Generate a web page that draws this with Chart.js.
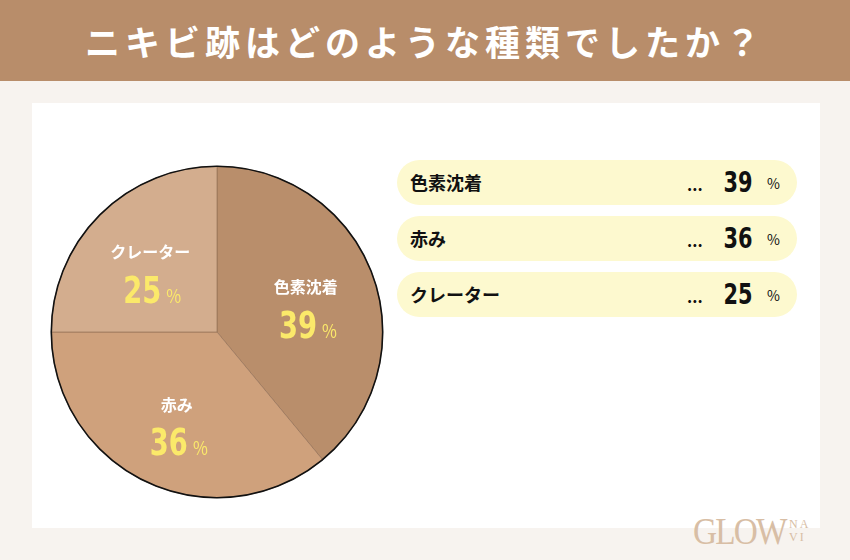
<!DOCTYPE html>
<html lang="ja">
<head>
<meta charset="utf-8">
<script src="https://cdn.jsdelivr.net/npm/chart.js@4.4.1/dist/chart.umd.min.js"></script>
<style>
  html, body { margin: 0; padding: 0; }
  body {
    width: 850px; height: 560px; position: relative; overflow: hidden;
    background: #f7f3ef;
    font-family: "Noto Sans CJK JP", "Noto Sans", sans-serif;
  }
  .title {
    position: absolute; left: 0; top: 0; width: 850px; height: 81px;
    background: #b88d6a; color: #fff;
    font-size: 35px; font-weight: 700; letter-spacing: 5px;
    text-align: center; line-height: 81px;
  }
  .card {
    position: absolute; left: 32px; top: 103px; width: 788px; height: 425px;
    background: #fff;
  }
  .chart-box { position: absolute; left: 37px; top: 152px; width: 360px; height: 360px; }
  .legend { position: absolute; left: 397px; top: 160px; width: 400px; }
  .pill {
    position: relative; height: 45px; border-radius: 23px; background: #fdf9cf;
    margin-bottom: 11px;
  }
  .pill .lab { position: absolute; left: 13px; top: 0; line-height: 45px; font-size: 18px; font-weight: 700; color: #111; }
  .pill .dots { position: absolute; left: 290px; top: 2px; line-height: 45px; font-size: 16px; font-weight: 700; color: #111; }
  .pill .num {
    position: absolute; left: 316px; width: 50px; text-align: center; top: 0; line-height: 45px;
    font-family: "DejaVu Sans", sans-serif; font-size: 29px; font-weight: 700; color: #111;
    transform: scaleX(0.72); transform-origin: center;
  }
  .pill .pct { position: absolute; left: 370px; top: 1px; line-height: 45px; font-size: 14px; color: #111; }
  .logo {
    position: absolute; left: 693px; top: 512px; color: #d8bea5; display: flex; align-items: flex-start;
    font-family: "Liberation Serif", "DejaVu Serif", serif;
  }
  .logo .glow { font-size: 37px; line-height: 40px; letter-spacing: -2px; transform: scaleX(0.9); transform-origin: left; width: 96px; }
  .logo .navi { font-size: 12px; line-height: 13px; letter-spacing: 2px; margin-top: 6px; }
</style>
</head>
<body>
<div class="title">ニキビ跡はどのような種類でしたか？</div>
<div class="card"></div>
<div class="chart-box"><canvas id="pie"></canvas></div>
<div class="legend" id="legend"></div>
<div class="logo"><span class="glow">GLOW</span><span class="navi">NA<br>VI</span></div>

<script>
// Chart data
var labels = ['色素沈着', '赤み', 'クレーター'];
var values = [39, 36, 25];
var sliceColors = ['#b98e6b', '#cfa17c', '#d3ad8e'];

// Legend pills built from the same arrays
var legendEl = document.getElementById('legend');
labels.forEach(function (lab, i) {
  var pill = document.createElement('div');
  pill.className = 'pill';
  pill.innerHTML = '<span class="lab">' + lab + '</span><span class="dots">...</span>' +
    '<span class="num">' + values[i] + '</span><span class="pct">%</span>';
  legendEl.appendChild(pill);
});

// Labels inside slices + black outer ring
var sliceLabels = {
  id: 'sliceLabels',
  afterDatasetsDraw: function (chart) {
    var ctx = chart.ctx;
    var meta = chart.getDatasetMeta(0);
    var first = meta.data[0];
    ctx.save();
    ctx.beginPath();
    ctx.arc(first.x, first.y, first.outerRadius, 0, Math.PI * 2);
    ctx.lineWidth = 1.6;
    ctx.strokeStyle = '#111';
    ctx.stroke();

    meta.data.forEach(function (arc, i) {
      var mid = (arc.startAngle + arc.endAngle) / 2;
      var r = arc.outerRadius * 0.57;
      var cx = arc.x + Math.cos(mid) * r;
      var cy = arc.y + Math.sin(mid) * r;

      ctx.textAlign = 'center';
      ctx.textBaseline = 'middle';
      ctx.fillStyle = '#fff';
      ctx.font = '700 16px "Noto Sans CJK JP", sans-serif';
      ctx.fillText(labels[i], cx, cy - 13);

      // condensed digits: draw wide font squeezed horizontally
      var sx = 0.72;
      var numFont = '700 38px "DejaVu Sans", sans-serif';
      var pctFont = '400 19px "Noto Sans CJK JP", sans-serif';
      ctx.font = numFont;
      var nw = ctx.measureText(String(values[i])).width * sx;
      ctx.font = pctFont;
      var pw = ctx.measureText('%').width * 0.85;
      var gap = 5;
      var x0 = cx - (nw + gap + pw) / 2 + 2;
      var base = cy + 38;
      ctx.fillStyle = '#fbe96a';
      ctx.textAlign = 'left';
      ctx.textBaseline = 'alphabetic';

      ctx.save();
      ctx.translate(x0, base);
      ctx.scale(sx, 1);
      ctx.font = numFont;
      ctx.fillText(String(values[i]), 0, 0);
      ctx.restore();

      ctx.save();
      ctx.translate(x0 + nw + gap, base);
      ctx.scale(0.85, 1);
      ctx.font = pctFont;
      ctx.fillText('%', 0, 0);
      ctx.restore();
    });
    ctx.restore();
  }
};

var config = {
  type: 'pie',
  data: {
    labels: labels,
    datasets: [{
      data: values,
      backgroundColor: sliceColors,
      borderColor: '#8f6c52',
      borderWidth: 0.6
    }]
  },
  options: {
    responsive: true,
    maintainAspectRatio: false,
    animation: false,
    layout: { padding: 14 },
    plugins: {
      legend: { display: false },
      tooltip: { enabled: false },
      title: { display: false }
    }
  },
  plugins: [sliceLabels]
};

var myChart = new Chart(document.getElementById('pie'), config);
</script>
</body>
</html>
